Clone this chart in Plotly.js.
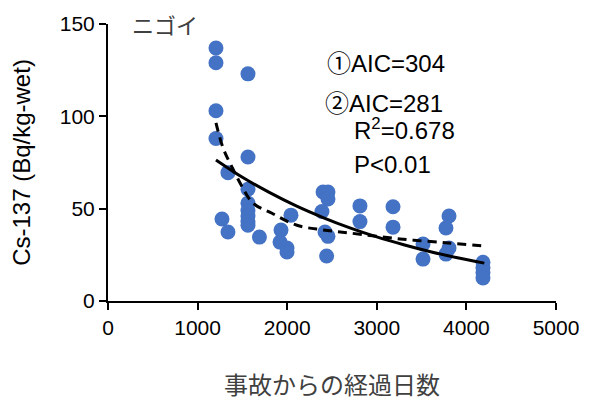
<!DOCTYPE html>
<html>
<head>
<meta charset="utf-8">
<script src="https://cdn.plot.ly/plotly-3.0.1.min.js"></script>
<style>html,body{margin:0;padding:0;background:#fff;}#chart{width:595px;height:401px;}</style>
</head>
<body>
<div id="chart"></div>
<script>
// Observed data: days since accident vs Cs-137
const days = [1205,1205,1205,1205, 1562,1562,1562,1562,1562,1562,1562,1562,
  1339,1272,1339,1690, 2042,1931,1920,1998,1998,
  2400,2455,2455,2388,2422,2455,2440,
  2812,2812, 3181,3181, 3516,3516,
  3806,3772,3806,3772, 4185,4185,4185,4185];
const cs137 = [137,129,103,88, 123,78,60.5,53,49,46,43,41,
  69.5,44.4,37.4,34.6, 46.5,38.4,31.9,28.7,26.5,
  59,59,55.2,48.5,37.4,35,24.4,
  51.5,43, 51,40, 30.9,22.7,
  46,39.5,28.7,25.4, 21,18,15.5,12.5];

// Model 1 curve (solid)
const fit1Days = [1205,1500,1800,2100,2400,2700,3000,3300,3600,3900,4200];
const fit1Vals = [76.4,67,58.8,51.5,45.2,39.6,34.7,30.5,26.7,23.4,20.5];
// Model 2 curve (dashed)
const fit2Days = [1205,1283,1373,1496,1618,1830,2109,2400,2701,3259,3795,4185];
const fit2Vals = [96.5,83,73.5,62,53,47.5,41,38.5,36.8,33.6,31.4,29.8];

const xTicks = [0,1000,2000,3000,4000,5000];
const yTicks = [0,50,100,150];

const font = 'Liberation Sans, Arial, Noto Sans CJK JP, sans-serif';
const jp = 'Noto Sans CJK JP, sans-serif';

const traces = [
  {x: days, y: cs137, type: 'scatter', mode: 'markers',
   marker: {color: '#4472C4', size: 15}, cliponaxis: false, hoverinfo: 'x+y'},
  {x: fit2Days, y: fit2Vals, type: 'scatter', mode: 'lines',
   line: {color: '#000', width: 3, dash: '9px,6px', shape: 'spline'}},
  {x: fit1Days, y: fit1Vals, type: 'scatter', mode: 'lines',
   line: {color: '#000', width: 3, shape: 'spline'}}
];

const layout = {
  width: 595, height: 401,
  margin: {l: 108, r: 39, t: 24, b: 100},
  paper_bgcolor: '#fff', plot_bgcolor: '#fff',
  showlegend: false,
  font: {family: font, size: 21, color: '#000'},
  xaxis: {range: [0, 5000], tickvals: xTicks, ticktext: xTicks.map(String),
    showgrid: false, zeroline: false, showline: true, linecolor: '#000', linewidth: 2,
    ticks: 'outside', ticklen: 7, tickwidth: 2, tickcolor: '#000',
    tickfont: {family: font, size: 21, color: '#000'},
    title: {text: '事故からの経過日数', font: {family: jp, size: 24, color: '#404040'}, standoff: 40},
    automargin: false},
  yaxis: {range: [0, 150], tickvals: yTicks, ticktext: yTicks.map(String),
    showgrid: false, zeroline: false, showline: true, linecolor: '#000', linewidth: 2,
    ticks: 'outside', ticklen: 7, tickwidth: 2, tickcolor: '#000',
    tickfont: {family: font, size: 21, color: '#000'},
    title: {text: 'Cs-137 (Bq/kg-wet)', font: {family: font, size: 24, color: '#000'}, standoff: 22},
    automargin: false},
  annotations: [
    {text: 'ニゴイ', xref: 'paper', yref: 'paper', x: 0.05, y: 1.0, xanchor: 'left', yanchor: 'middle',
     showarrow: false, font: {family: jp, size: 22, color: '#404040'}},
    {text: '①AIC=304', xref: 'x', yref: 'y', x: 2420, y: 128.5, xanchor: 'left', yanchor: 'middle',
     showarrow: false, font: {family: font, size: 24, color: '#000'}},
    {text: '②AIC=281', xref: 'x', yref: 'y', x: 2400, y: 107, xanchor: 'left', yanchor: 'middle',
     showarrow: false, font: {family: font, size: 24, color: '#000'}},
    {text: 'R<sup>2</sup>=0.678', xref: 'x', yref: 'y', x: 2720, y: 93, xanchor: 'left', yanchor: 'middle',
     showarrow: false, font: {family: font, size: 24, color: '#000'}},
    {text: 'P<0.01', xref: 'x', yref: 'y', x: 2720, y: 74, xanchor: 'left', yanchor: 'middle',
     showarrow: false, font: {family: font, size: 24, color: '#000'}}
  ]
};

Plotly.newPlot('chart', traces, layout, {displayModeBar: false, staticPlot: true});
</script>
</body>
</html>
